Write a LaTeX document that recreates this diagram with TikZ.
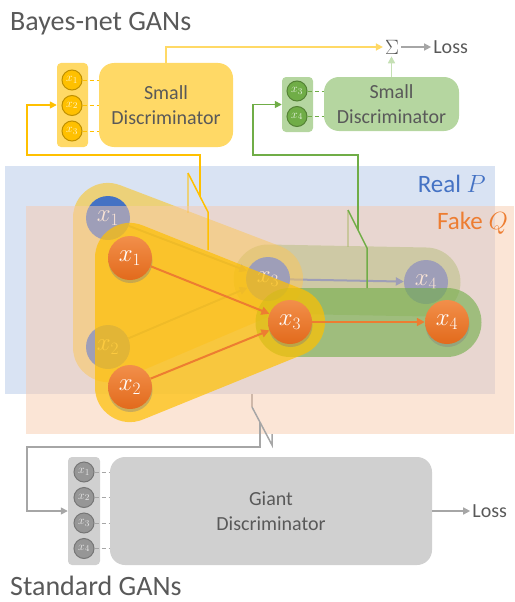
\documentclass[tikz,border=0pt]{standalone}
\usepackage{fontspec}
\setmainfont{Carlito}
\usepackage{tikz}
\usetikzlibrary{arrows.meta, positioning, calc, shadows}

\definecolor{realblue}{RGB}{68,114,196}
\definecolor{realbg}{RGB}{180,199,231}
\definecolor{fakeorange}{RGB}{237,125,49}
\definecolor{fakehi}{RGB}{242,143,74}
\definecolor{fakelo}{RGB}{226,106,28}
\definecolor{fakebg}{RGB}{248,203,173}
\definecolor{gold}{RGB}{255,192,0}
\definecolor{golddark}{RGB}{191,144,0}
\definecolor{goldlight}{RGB}{255,217,102}
\definecolor{goldpale}{RGB}{255,244,200}
\definecolor{leaf}{RGB}{112,173,71}
\definecolor{leafdark}{RGB}{84,130,53}
\definecolor{leaflight}{RGB}{181,214,160}
\definecolor{leafpale}{RGB}{197,224,180}
\definecolor{leafwhite}{RGB}{228,242,220}
\definecolor{textgray}{RGB}{89,89,89}
\definecolor{linegray}{RGB}{166,166,166}
\definecolor{boxgray}{RGB}{208,208,208}
\definecolor{dotgray}{RGB}{150,150,150}
\definecolor{dotgraydark}{RGB}{118,118,118}
\definecolor{dotgraypale}{RGB}{232,232,232}

\pgfdeclarelayer{back}
\pgfdeclarelayer{edges}
\pgfsetlayers{back,edges,main}

\begin{document}
\begin{tikzpicture}[
        x=1pt, y=-1pt,
        node distance=4.5pt,
        every node/.style={font=\fontsize{20}{25}\selectfont, text=textgray},
        title/.style={font=\fontsize{28}{32}\selectfont, anchor=base west, inner sep=0pt},
        layerlabel/.style={font=\fontsize{25}{30}\selectfont, anchor=base east, inner sep=0pt},
        realnode/.style={circle, fill=realblue, minimum size=44pt, inner sep=0pt, text=white, font=\fontsize{25}{25}\selectfont},
        fakenode/.style={circle, minimum size=44pt, inner sep=0pt, top color=fakehi, bottom color=fakelo, text=white, font=\fontsize{25}{25}\selectfont,
            drop shadow={shadow xshift=0.5pt, shadow yshift=-3pt, opacity=0.4}},
        smalldot/.style={circle, draw, line width=1pt, minimum size=20pt, inner sep=0pt, font=\fontsize{13}{13}\selectfont},
        ydot/.style={smalldot, fill=gold, draw=golddark, text=goldpale},
        gdot/.style={smalldot, fill=leaf, draw=leafdark, text=leafwhite},
        kdot/.style={smalldot, fill=dotgray, draw=dotgraydark, text=dotgraypale},
        inputcol/.style={rounded corners=4pt},
        disc/.style={rounded corners=15pt, align=center, inner sep=0pt},
        hull/.style={line width=70pt, line join=round, line cap=round},
        pill/.style={line width=69pt, line cap=round},
        graphedge/.style={-{Triangle[length=8pt,width=8pt]}, line width=2pt},
        feed/.style={-{Triangle[length=7pt,width=7pt]}, line width=1.5pt},
        lever/.style={line width=1.5pt},
        tap/.style={dash pattern=on 4pt off 3pt, line width=1pt}
    ]
    \useasboundingbox (0,0) rectangle (514,602);

    % centres of the variables
    \coordinate (p1) at (108,218);
    \coordinate (p2) at (108,347);
    \coordinate (p3) at (268,279);
    \coordinate (p4) at (426,282);
    \coordinate (q1) at (130,258);
    \coordinate (q2) at (130,387);
    \coordinate (q3) at (290,322);
    \coordinate (q4) at (447,322);

    % switch ends
    \coordinate (ytop) at (188,173);
    \coordinate (ybot) at (208,212);
    \coordinate (gtop) at (348,210);
    \coordinate (gbot) at (367,248);
    \coordinate (ktop) at (252,407);
    \coordinate (kbot) at (272,445);

    % Real P
    \begin{pgfonlayer}{back}
        \fill[realbg, opacity=0.5] (5,166) rectangle (495,394);
        \draw[pill, leaf, opacity=0.5] (p3) -- (p4);
    \end{pgfonlayer}
    \draw[hull, gold, opacity=0.5] (p1) -- (p2) -- (p3) -- cycle ($(p1)!0.5!(p2)$) -- (p3);
    \node[realnode] (rx1) at (p1) {$x_1$};
    \node[realnode] (rx2) at (p2) {$x_2$};
    \node[realnode] (rx3) at (p3) {$x_3$};
    \node[realnode] (rx4) at (p4) {$x_4$};
    \begin{pgfonlayer}{edges}
        \draw[graphedge, realblue] (rx1) -- (rx3);
        \draw[graphedge, realblue] (rx2) -- (rx3);
        \draw[graphedge, realblue] (rx3) -- (rx4);
    \end{pgfonlayer}
    \draw[lever, gold, opacity=0.5] (ytop) -- ++(0,40);
    \draw[lever, leaf, opacity=0.6] (gtop) -- ++(0,37);
    \draw[lever, linegray] (ktop) -- ++(0,-13);

    % Fake Q
    \fill[fakebg, opacity=0.5] (26,206) rectangle (514,434);
    \draw[pill, leaf, opacity=0.6] (q3) -- (q4);
    \draw[hull, gold, opacity=0.7] (q1) -- (q2) -- (q3) -- cycle ($(q1)!0.5!(q2)$) -- (q3);
    \node[fakenode] (fx1) at (q1) {$x_1$};
    \node[fakenode] (fx2) at (q2) {$x_2$};
    \node[fakenode] (fx3) at (q3) {$x_3$};
    \node[fakenode] (fx4) at (q4) {$x_4$};
    \draw[graphedge, fakeorange] (fx1) -- (fx3);
    \draw[graphedge, fakeorange] (fx2) -- (fx3);
    \draw[graphedge, fakeorange] (fx3) -- (fx4);

    \node[layerlabel, text=realblue] (reallabel) at (486,192) {Real $P$};
    \node[layerlabel, text=fakeorange] (fakelabel) at (508,229) {Fake $Q$};

    % Bayes-net GANs
    \node[inputcol, fill=goldlight, minimum width=31pt, minimum height=84pt] (ycol) at (72.5,105) {};
    \node[ydot] (yx1) at (72,80) {$x_1$};
    \node[ydot, below=of yx1] (yx2) {$x_2$};
    \node[ydot, below=of yx2] (yx3) {$x_3$};
    \node[disc, fill=goldlight, minimum width=134pt, minimum height=84pt] (ydisc) at (166,105) {Small\\Discriminator};
    \foreach \i in {1,2,3}
        \draw[tap, gold] (yx\i) -- (yx\i -| ydisc.west);

    \node[inputcol, fill=leaflight, minimum width=31pt, minimum height=55pt] (gcol) at (297.5,104.5) {};
    \node[gdot] (gx3) at (297,91) {$x_3$};
    \node[gdot, below=of gx3] (gx4) {$x_4$};
    \node[disc, fill=leaflight, minimum width=135pt, minimum height=54pt] (gdisc) at (391.5,104) {Small\\Discriminator};
    \foreach \i in {3,4}
        \draw[tap, leaf] (gx\i) -- (gx\i -| gdisc.west);

    \node[inner sep=2pt] (sigma) at (392,47) {$\Sigma$};
    \node[right=30pt of sigma, inner sep=2pt] (loss1) {Loss};
    \draw[feed, goldlight] (ydisc.north) |- (sigma.west);
    \draw[feed, leafpale] (gdisc.north) -- (gdisc.north |- sigma.south);
    \draw[feed, linegray] (sigma) -- (loss1);

    % Standard GANs
    \node[inputcol, fill=boxgray, minimum width=32pt, minimum height=108pt] (kcol) at (84,511) {};
    \node[kdot] (kx1) at (84,472) {$x_1$};
    \node[kdot, below=of kx1] (kx2) {$x_2$};
    \node[kdot, below=of kx2] (kx3) {$x_3$};
    \node[kdot, below=of kx3] (kx4) {$x_4$};
    \node[disc, fill=boxgray, minimum width=322pt, minimum height=108pt] (kdisc) at (271,511) {Giant\\Discriminator};
    \foreach \i in {1,2,3,4}
        \draw[tap, linegray] (kx\i) -- (kx\i -| kdisc.west);
    \node[right=38pt of kdisc, inner sep=2pt] (loss2) {Loss};
    \draw[feed, linegray] (kdisc) -- (loss2);

    % switches feeding the discriminators
    \draw[lever, gold] (ytop) -- (ybot) -- ++(0,38);
    \draw[feed, gold] ($(ytop)!0.6!(ybot)$) |- (27,155) |- (ycol.west);
    \draw[lever, leaf] (gtop) -- (gbot) -- ++(0,40);
    \draw[feed, leaf] ($(gtop)!0.53!(gbot)$) |- (253,155) |- (gcol.west);
    \draw[lever, linegray] (ktop) -- (kbot) -- ++(0,-11);
    \draw[feed, linegray] ($(ktop)!0.4!(kbot)$) |- (27,447) |- (kcol.west);

    \node[title] (bayes) at (10,31) {Bayes-net GANs};
    \node[title] (standard) at (10,595) {Standard GANs};
\end{tikzpicture}
\end{document}
